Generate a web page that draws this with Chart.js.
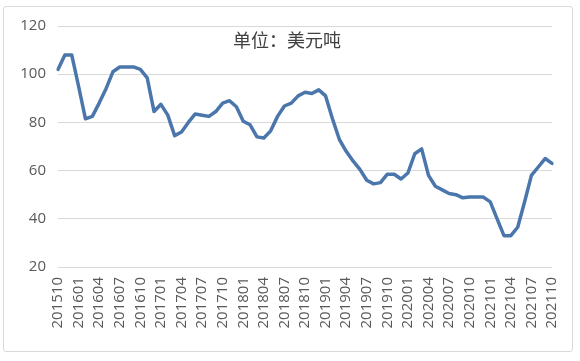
<!DOCTYPE html>
<html>
<head>
<meta charset="utf-8">
<script src="https://cdn.jsdelivr.net/npm/chart.js@4"></script>
<style>
  html, body { margin: 0; padding: 0; background: #ffffff; }
  #wrap { position: relative; width: 580px; height: 361px; }
  #frame { position: absolute; left: 3px; top: 6px; width: 570px; height: 346px; border: 1px solid #d9d9d9; border-radius: 3px; box-sizing: border-box; }
  canvas { position: absolute; left: 0; top: 0; }
</style>
</head>
<body>
<div id="wrap">
  <div id="frame"></div>
  <canvas id="c" width="580" height="361"></canvas>
</div>
<script>
const months = [
  "201510","201511","201512",
  "201601","201602","201603","201604","201605","201606","201607","201608","201609","201610","201611","201612",
  "201701","201702","201703","201704","201705","201706","201707","201708","201709","201710","201711","201712",
  "201801","201802","201803","201804","201805","201806","201807","201808","201809","201810","201811","201812",
  "201901","201902","201903","201904","201905","201906","201907","201908","201909","201910","201911","201912",
  "202001","202002","202003","202004","202005","202006","202007","202008","202009","202010","202011","202012",
  "202101","202102","202103","202104","202105","202106","202107","202108","202109","202110"
];
const prices = [
  102, 108, 108,
  95, 81.5, 82.5, 88, 94, 101, 103, 103, 103, 102, 98.5, 84.5,
  87.5, 83, 74.5, 76, 80, 83.5, 83, 82.5, 84.5, 88, 89, 86.5,
  80.5, 79, 74, 73.5, 76.5, 82.5, 86.8, 88, 91, 92.5, 92, 93.5,
  91, 81.5, 73, 68, 64, 60.5, 56, 54.5, 55, 58.5, 58.5, 56.5,
  59, 67, 69, 58, 53.5, 52, 50.5, 50, 48.7, 49, 49, 49,
  47, 40, 33, 33, 36.5, 47, 58, 61.5, 65, 63
];
const unitLabel = "单位：美元吨";
const yMin = 20, yMax = 120, yStep = 20;

const unitPlugin = {
  id: 'unitText',
  afterDatasetsDraw(chart) {
    const ctx = chart.ctx;
    const area = chart.chartArea;
    const y = chart.scales.y.getPixelForValue(114);
    ctx.save();
    ctx.font = '18px "Noto Sans CJK SC", sans-serif';
    ctx.fillStyle = '#404040';
    ctx.textAlign = 'center';
    ctx.textBaseline = 'middle';
    ctx.fillText(unitLabel, 287, y);
    ctx.restore();
  }
};

new Chart(document.getElementById('c'), {
  type: 'line',
  data: {
    labels: months,
    datasets: [{
      data: prices,
      borderColor: '#4a76ac',
      borderWidth: 3.5,
      pointRadius: 0,
      tension: 0,
      borderJoinStyle: 'round',
      borderCapStyle: 'round',
      fill: false
    }]
  },
  options: {
    responsive: false,
    animation: false,
    layout: { padding: { left: 0, top: 26, right: 27, bottom: 0 } },
    plugins: { legend: { display: false }, tooltip: { enabled: false } },
    scales: {
      x: {
        offset: false,
        grid: { display: false, drawTicks: false },
        border: { display: false },
        ticks: {
          autoSkip: false,
          minRotation: 90,
          maxRotation: 90,
          padding: 10,
          color: '#595959',
          font: { family: '"Open Sans", sans-serif', size: 15 },
          callback: function(v, i) { return i % 3 === 0 ? months[i] : ''; }
        },
        afterFit: function(s) { s.height = 94; }
      },
      y: {
        min: yMin, max: yMax,
        grid: { color: '#d9d9d9', lineWidth: 1, drawTicks: false },
        border: { display: false },
        ticks: {
          stepSize: yStep,
          padding: 12,
          color: '#595959',
          font: { family: '"Open Sans", sans-serif', size: 15 }
        },
        afterFit: function(s) { s.width = 58; }
      }
    }
  },
  plugins: [unitPlugin]
});
</script>
</body>
</html>
